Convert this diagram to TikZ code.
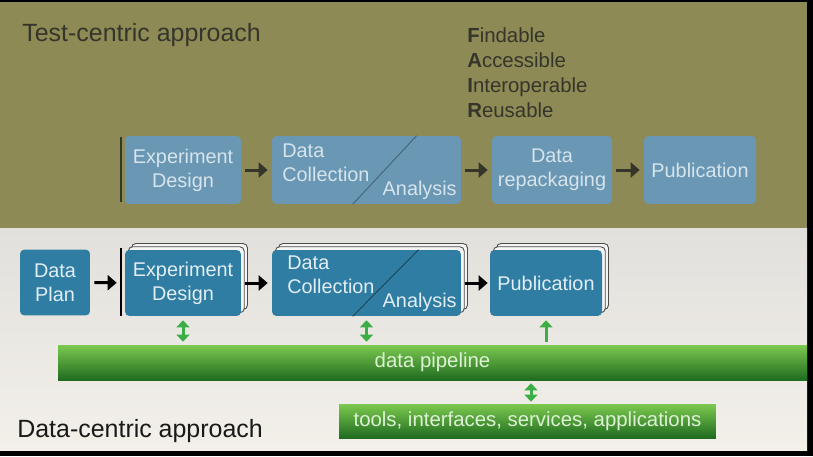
\documentclass[tikz,border=0pt]{standalone}
\usepackage{fontspec}
\setmainfont{Liberation Sans}
\usetikzlibrary{positioning,arrows.meta,calc,shadows}
\definecolor{bandolive}{HTML}{8E8A56}
\definecolor{lighttop}{HTML}{E2E0DC}
\definecolor{lightbot}{HTML}{F3F0EA}
\definecolor{topblue}{HTML}{6A97B4}
\definecolor{toptext}{HTML}{D6E4EC}
\definecolor{botblue}{HTML}{2F7DA2}
\definecolor{bottext}{HTML}{E2EEF4}
\definecolor{darkolive}{HTML}{35352A}
\definecolor{arrgreen}{HTML}{3CAE46}
\definecolor{pipetop}{HTML}{7CC94F}
\definecolor{pipebot}{HTML}{1F6B20}
\definecolor{pipetext}{HTML}{DDF2D4}
\newcommand{\boxfont}{\fontsize{11.3}{13.8}\selectfont}
\newcommand{\fairfont}{\fontsize{11.6}{14.2}\selectfont}
\newcommand{\headfont}{\fontsize{14.2}{16}\selectfont}
\newcommand{\bandfont}{\fontsize{11.6}{13.8}\selectfont}

\begin{document}
\begin{tikzpicture}[x=0.02cm, y=-0.02cm,
  tbox/.style={rectangle, rounded corners=2.5pt, fill=topblue, text=toptext,
               minimum height=1.36cm, font=\boxfont, align=center, inner sep=0pt},
  bbox/.style={tbox, fill=botblue, text=bottext, minimum height=1.32cm},
  stack/.style={double copy shadow={shadow xshift=0.065cm, shadow yshift=0.065cm,
               fill=white!92!gray, draw=black!70, line width=0.5pt}},
  flow/.style={line width=0.06cm, -{Triangle[length=0.18cm,width=0.3cm]}},
  gflow/.style={line width=0.06cm, draw=arrgreen,
               {Triangle[length=0.14cm,width=0.26cm]}-{Triangle[length=0.14cm,width=0.26cm]}},
  gup/.style={line width=0.06cm, draw=arrgreen, -{Triangle[length=0.14cm,width=0.26cm]}},
  band/.style={rectangle, top color=pipetop, bottom color=pipebot, text=pipetext,
               font=\bandfont, inner sep=0pt},
  divline/.style={draw=black!45!botblue, line width=0.5pt},
  startbar/.style={line width=0.04cm}]

% background
\fill[black] (0,0) rectangle (813,456);
\fill[bandolive] (0,2) rectangle (807,228);
\shade[top color=lighttop, bottom color=lightbot] (0,228) rectangle (807,450);
\useasboundingbox (0,0) rectangle (813,456);

% test-centric approach
\node[anchor=base west, inner sep=0pt, font=\headfont, text=darkolive] (ttitle) at (22,42) {Test-centric approach};
\node[anchor=north west, inner sep=0pt, font=\fairfont, text=darkolive, align=left] (fair) at (467,27.5)
  {\textbf{F}indable\\ \textbf{A}ccessible\\ \textbf{I}nteroperable\\ \textbf{R}eusable};

\node[tbox, minimum width=2.32cm] (ted) at (183,170) {Experiment\\Design};
\node[tbox, minimum width=3.78cm] (tdc) at (366.5,170) {};
\node[tbox, minimum width=2.4cm] (trp) at (552,170) {Data\\repackaging};
\node[tbox, minimum width=2.24cm] (tpub) at (700,170) {Publication};
\node[anchor=west, inner sep=0pt, font=\boxfont, text=toptext, align=left] (tdcone) at (282,163) {Data\\Collection};
\node[anchor=east, inner sep=0pt, font=\boxfont, text=toptext] (tdctwo) at (457,190) {Analysis};
\draw[divline, draw=black!35!topblue] ([xshift=2.9cm]tdc.north west) -- ([xshift=1.62cm]tdc.south west);
\draw[startbar, darkolive] ([xshift=-0.08cm,yshift=-0.02cm]ted.north west) -- ([xshift=-0.08cm,yshift=0.04cm]ted.south west);

\draw[flow, darkolive, shorten <=0.08cm, shorten >=0.08cm] (ted) -- (tdc);
\draw[flow, darkolive, shorten <=0.08cm, shorten >=0.08cm] (tdc) -- (trp);
\draw[flow, darkolive, shorten <=0.08cm, shorten >=0.08cm] (trp) -- (tpub);

% data-centric approach
\node[bbox, minimum width=1.4cm] (bdp) at (55,282.5) {Data\\Plan};
\node[bbox, stack, minimum width=2.32cm] (bed) at (183,283) {Experiment\\Design};
\node[bbox, stack, minimum width=3.78cm] (bdc) at (366.5,283) {};
\node[bbox, stack, minimum width=2.24cm] (bpub) at (546,283) {Publication};
\node[anchor=west, inner sep=0pt, font=\boxfont, text=bottext, align=left] (bdcone) at (287,275) {Data\\Collection};
\node[anchor=east, inner sep=0pt, font=\boxfont, text=bottext] (bdctwo) at (457,302) {Analysis};
\draw[divline] ([xshift=2.94cm]bdc.north west) -- ([xshift=1.62cm]bdc.south west);
\draw[startbar, black] ([xshift=-0.08cm,yshift=0.04cm]bed.north west) -- ([xshift=-0.08cm]bed.south west);

\draw[flow, black, shorten <=0.08cm, shorten >=0.16cm] (bdp) -- (bed);
\draw[flow, black, shorten <=0.08cm, shorten >=0.08cm] (bed) -- (bdc);
\draw[flow, black, shorten <=0.08cm, shorten >=0.04cm] (bdc) -- (bpub);

\node[band, minimum width=14.98cm, minimum height=0.7cm] (pipe) at (432.5,362.5) {data pipeline};
\node[band, minimum width=7.54cm, minimum height=0.68cm] (tools) at (527.5,421) {tools, interfaces, services, applications};

\draw[gflow, shorten <=0.08cm, shorten >=0.06cm] (bed.south) -- (bed.south |- pipe.north);
\draw[gflow, shorten <=0.08cm, shorten >=0.06cm] (bdc.south) -- (bdc.south |- pipe.north);
\draw[gup, shorten <=0.06cm, shorten >=0.08cm] (bpub.south |- pipe.north) -- (bpub.south);
\draw[gflow, shorten <=0.06cm, shorten >=0.04cm] ([xshift=0.07cm]tools.north |- pipe.south) -- ([xshift=0.07cm]tools.north);

\node[anchor=base west, inner sep=0pt, font=\headfont, text=black!90] (btitle) at (17,437) {Data-centric approach};
\end{tikzpicture}
\end{document}
